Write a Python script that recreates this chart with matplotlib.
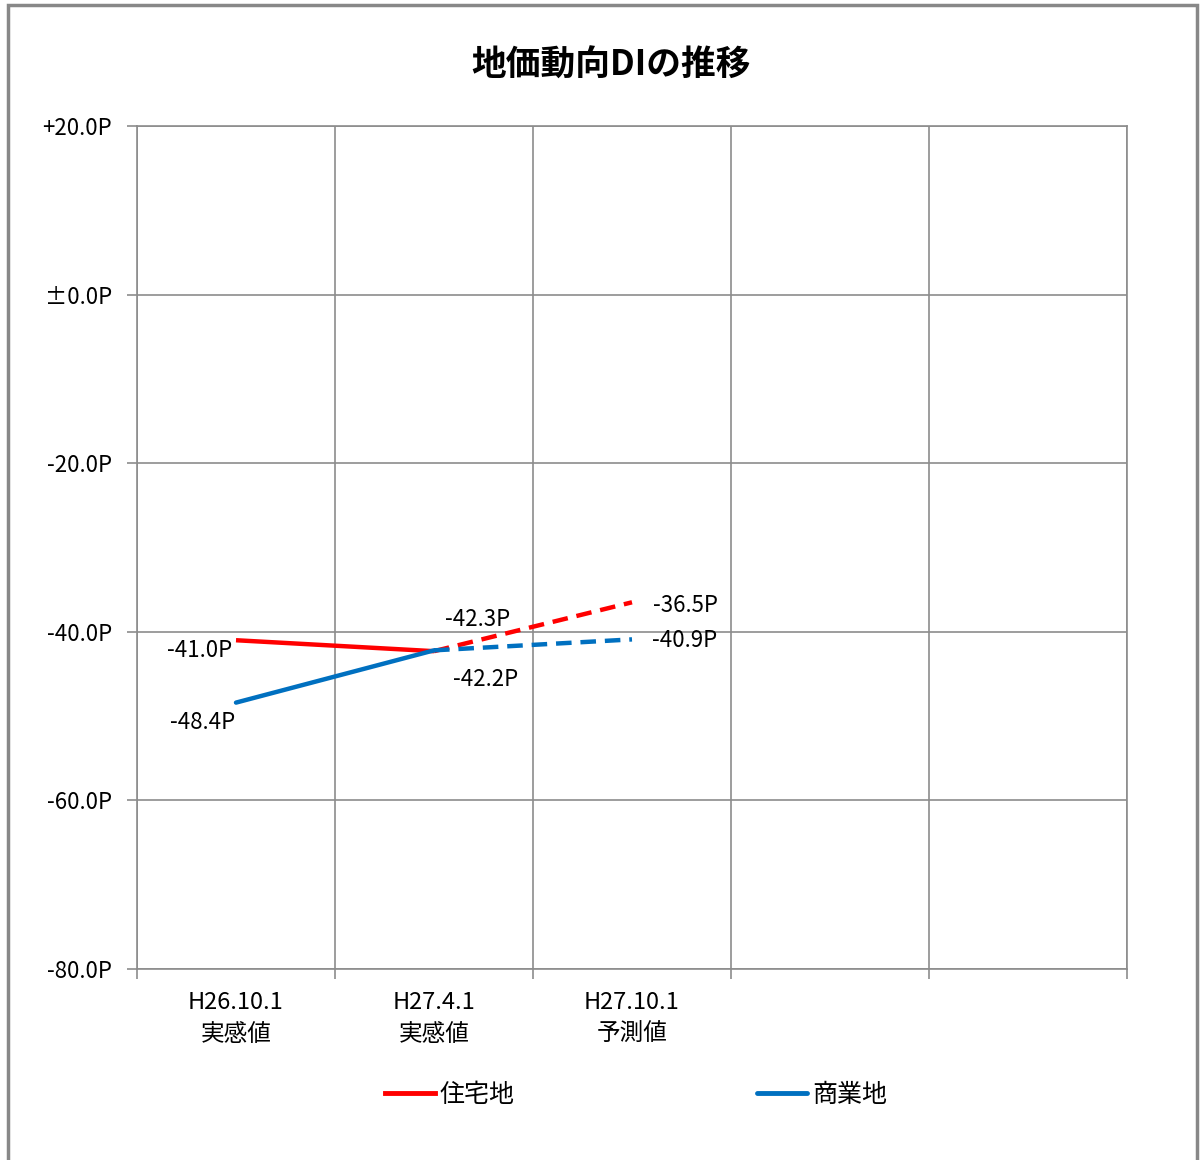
import numpy as np
import matplotlib.pyplot as plt
from matplotlib.patches import Rectangle
from matplotlib.lines import Line2D

plt.rcParams['font.family'] = ['Noto Sans CJK JP', 'DejaVu Sans']

title = '地価動向DIの推移'
categories = ['H26.10.1\n実感値', 'H27.4.1\n実感値', 'H27.10.1\n予測値', '', '']
series_names = ['住宅地', '商業地']
jutaku = [-41.0, -42.3, -36.5]
shogyo = [-48.4, -42.2, -40.9]
y_ticks = [20, 0, -20, -40, -60, -80]
y_labels = ['+20.0P', '±0.0P', '-20.0P', '-40.0P', '-60.0P', '-80.0P']

red = '#FF0000'
blue = '#0070C0'
grid_c = '#8C8C8C'

fig = plt.figure(figsize=(12.01, 11.60), dpi=100)
ax = fig.add_axes([137/1201, 1-969/1160, 990/1201, 843/1160])

x = np.arange(len(jutaku)) + 0.5

# 実感値は実線、予測値は破線
ax.plot(x[:2], jutaku[:2], color=red, lw=3.2, solid_capstyle='butt', zorder=3)
ax.plot(x[1:], jutaku[1:], color=red, lw=3.2, ls=(0, (3.5, 2)), zorder=3)
ax.plot(x[:2], shogyo[:2], color=blue, lw=3.2, solid_capstyle='round', zorder=3)
ax.plot(x[1:], shogyo[1:], color=blue, lw=3.2, ls=(0, (3.5, 2)), zorder=3)

# データラベル
fs = 16
ax.annotate('%.1fP' % jutaku[0], (x[0], jutaku[0]), xytext=(-36, -10), textcoords='offset pixels', ha='center', va='center', fontsize=fs)
ax.annotate('%.1fP' % jutaku[1], (x[1], jutaku[1]), xytext=(44, 32), textcoords='offset pixels', ha='center', va='center', fontsize=fs)
ax.annotate('%.1fP' % jutaku[2], (x[2], jutaku[2]), xytext=(53, -3), textcoords='offset pixels', ha='center', va='center', fontsize=fs)
ax.annotate('%.1fP' % shogyo[0], (x[0], shogyo[0]), xytext=(-33, -20), textcoords='offset pixels', ha='center', va='center', fontsize=fs)
ax.annotate('%.1fP' % shogyo[1], (x[1], shogyo[1]), xytext=(52, -29), textcoords='offset pixels', ha='center', va='center', fontsize=fs)
ax.annotate('%.1fP' % shogyo[2], (x[2], shogyo[2]), xytext=(53, -1), textcoords='offset pixels', ha='center', va='center', fontsize=fs)

ax.set_xlim(0, 5)
ax.set_ylim(-80, 20)

ax.set_yticks(y_ticks)
ax.set_yticklabels(y_labels, fontsize=fs)
ax.set_xticks(np.arange(0, 6))
ax.set_xticklabels([])
ax.set_xticks(np.arange(5) + 0.5, minor=True)
ax.set_xticklabels(categories, minor=True, fontsize=17, linespacing=1.5)
ax.tick_params(axis='x', which='minor', length=0, pad=16)
ax.tick_params(axis='both', which='major', length=7, width=1.2, color=grid_c)
ax.tick_params(axis='y', pad=11)

ax.grid(True, which='major', color=grid_c, lw=1.2)
ax.set_axisbelow(True)
for s in ax.spines.values():
    s.set_color(grid_c)
    s.set_linewidth(1.2)

fig.text(611/1201, 1-65/1160, title, ha='center', va='center', fontsize=25, fontweight='bold')

# 凡例
handles = [Line2D([], [], color=red, lw=3.5), Line2D([], [], color=blue, lw=3.5, solid_capstyle='round')]
fig.legend(handles, series_names, loc='center', bbox_to_anchor=(636/1201, 1-1095/1160), ncol=2,
           frameon=False, fontsize=18, handlelength=2.0, handletextpad=0.2, columnspacing=9.7)

# 外枠
fig.patches.append(Rectangle((8/1201, -0.01), 1189/1201, 1-5/1160+0.01, transform=fig.transFigure,
                             fill=False, edgecolor='#888888', lw=2.5))

fig.savefig('out.png', dpi=100)
